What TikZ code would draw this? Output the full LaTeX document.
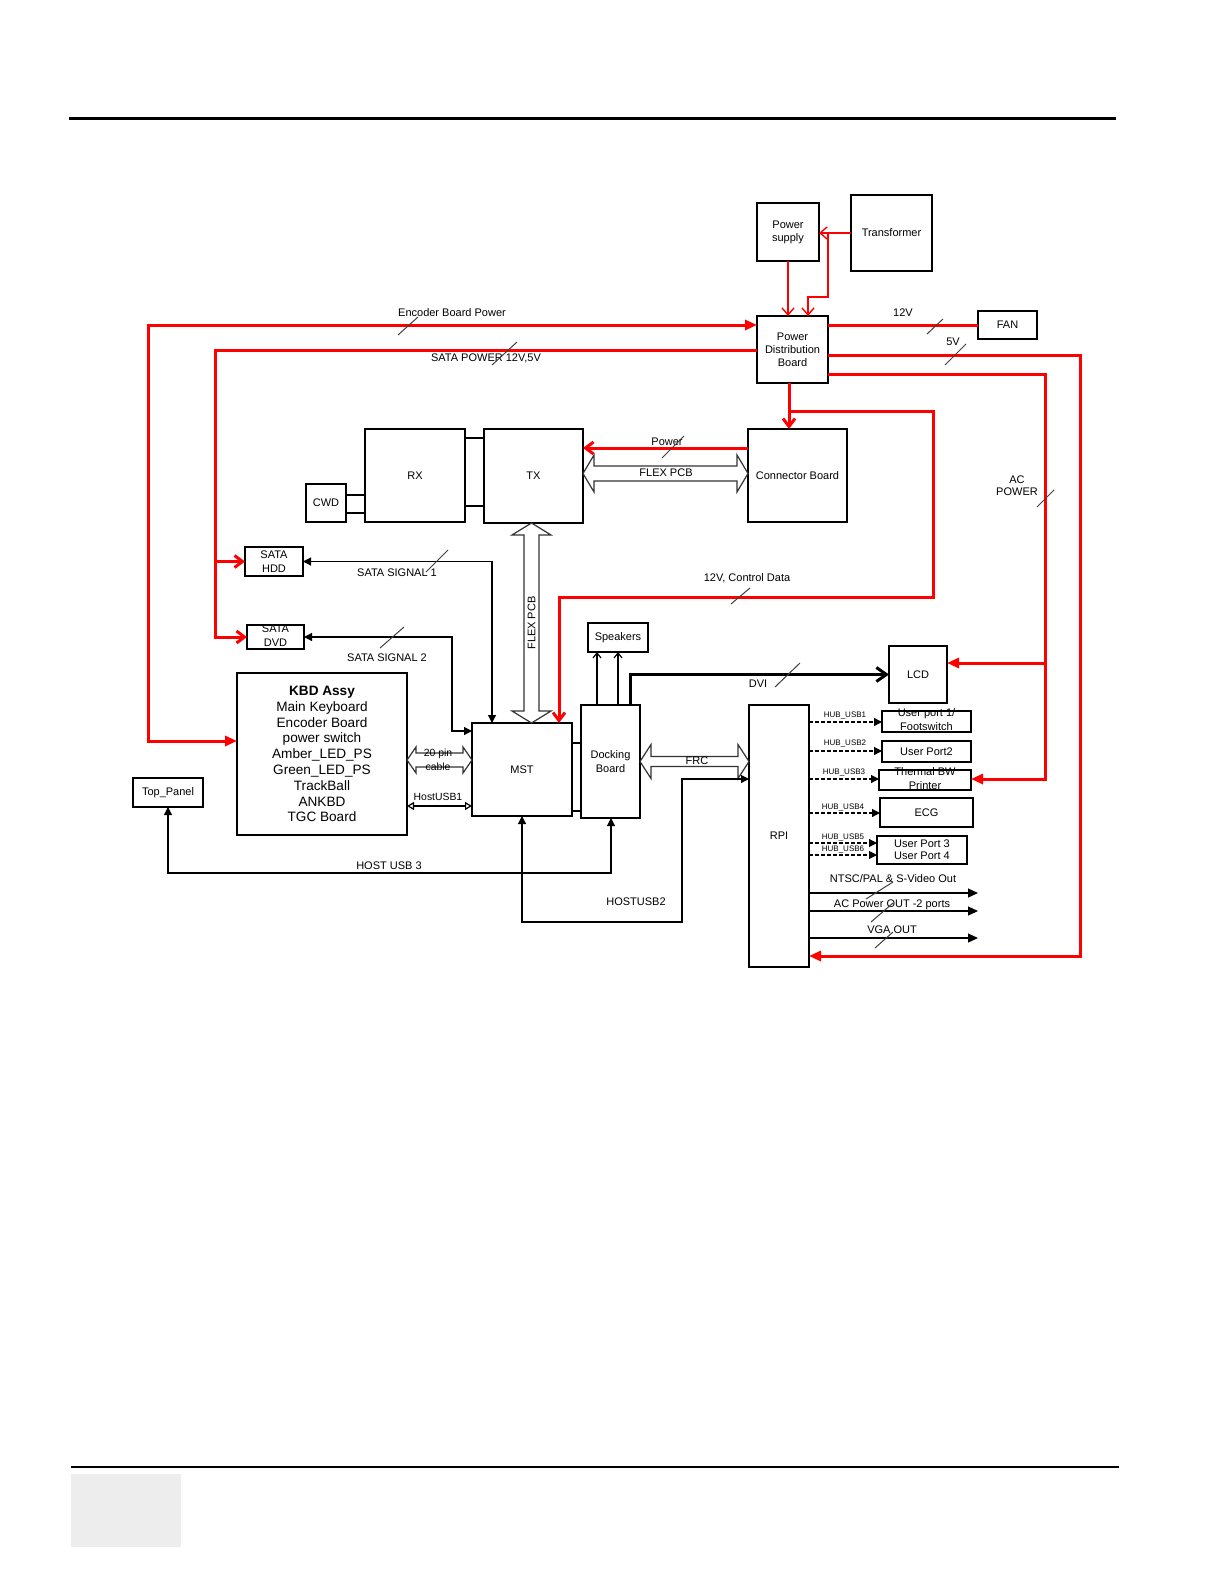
\documentclass[tikz,border=0pt]{standalone}
\usepackage{fontspec}
\setmainfont{Liberation Sans}
\usetikzlibrary{arrows.meta}
\newcommand{\fsm}{\fontsize{5.5}{6.6}\selectfont}
\newcommand{\fmid}{\fontsize{5.5}{7}\selectfont}
\newcommand{\ftn}{\fontsize{4}{4.8}\selectfont}
\newcommand{\fkb}{\fontsize{6.8}{7.9}\selectfont}
\tikzset{
  redtri/.tip={Triangle[length=6pt,width=5pt]},
  redbarb/.tip={Straight Barb[length=4pt,width=6pt]},
  thinbarb/.tip={Straight Barb[length=3.5pt,width=6pt]},
  blktri/.tip={Triangle[length=4pt,width=4pt]},
  smtri/.tip={Triangle[length=4pt,width=4pt]},
  bigtri/.tip={Triangle[length=5pt,width=4.5pt]},
  spkbarb/.tip={Straight Barb[length=2.5pt,width=4pt]},
  opentri/.tip={Triangle[open,length=3.5pt,width=4pt]},
  box/.style={draw,line width=0.75pt,inner sep=0pt,outer sep=0pt,align=center,font=\fsm},
  txt/.style={inner sep=0pt,align=center,font=\fsm},
  thickred/.style={draw=red,line width=1.5pt},
  thinred/.style={draw=red,line width=0.7pt},
  blk/.style={draw=black,line width=0.6pt},
  tick/.style={draw=black!75,line width=0.5pt},
  fat/.style={draw=black!80,fill=white,line width=0.6pt},
}
\begin{document}
\begin{tikzpicture}[x=0.5pt,y=-0.5pt]
\useasboundingbox (0,0) rectangle (1224,1584);
\fill[white] (0,0) rectangle (1224,1584);
% page furniture
\draw[line width=1.5pt] (69,119) -- (1116,119);
\draw[line width=0.6pt] (71,1467) -- (1119,1467);
\fill[black!7] (71,1474) rectangle (181,1547);

% boxes
\node[box,minimum width=31pt,minimum height=29pt] (ps) at (788,232) {Power\\supply};
\node[box,minimum width=40.5pt,minimum height=38pt] (tr) at (891.5,233) {Transformer};
\node[box,minimum width=35.5pt,minimum height=33.5pt] (pdb) at (792.5,349.5) {Power\\Distribution\\Board};
\node[box,minimum width=29.5pt,minimum height=14pt] (fan) at (1007.5,325) {FAN};
\node[box,minimum width=50pt,minimum height=46.5pt] (rx) at (415,475.5) {RX};
\node[box,minimum width=49.5pt,minimum height=47pt] (tx) at (533.5,476) {TX};
\node[box,minimum width=9.5pt,minimum height=34pt] (rxtx) at (474.5,472) {};
\node[box,minimum width=20pt,minimum height=19pt] (cwd) at (326,503) {CWD};
\node[box,minimum width=9.5pt,minimum height=9pt] (cwdrx) at (355.5,504) {};
\node[box,minimum width=49.5pt,minimum height=46.5pt] (cb) at (797.5,475.5) {Connector Board};
\node[box,minimum width=29pt,minimum height=14.5pt,font=\fmid] (hdd) at (274,561.5) {SATA\\HDD};
\node[box,minimum width=28.5pt,minimum height=12pt] (dvd) at (275.5,637) {};
\node[txt,font=\fmid] (dvdt) at (275.5,636) {SATA\\DVD};
\node[box,minimum width=85pt,minimum height=81pt,font=\fkb] (kbd) at (322,754) {\textbf{KBD Assy}\\Main Keyboard\\Encoder Board\\power switch\\Amber\_LED\_PS\\Green\_LED\_PS\\TrackBall\\ANKBD\\TGC Board};
\node[box,minimum width=35pt,minimum height=14.5pt] (top) at (168,792.5) {Top\_Panel};
\node[box,minimum width=50pt,minimum height=46.5pt] (mst) at (522,769.5) {MST};
\node[box,minimum width=4.5pt,minimum height=34pt] (mcon) at (576.5,777) {};
\node[box,minimum width=29.5pt,minimum height=56.5pt] (dock) at (610.5,761.5) {Docking\\Board};
\node[box,minimum width=30pt,minimum height=14.5pt] (spk) at (618,637.5) {Speakers};
\node[box,minimum width=29pt,minimum height=28.5pt] (lcd) at (918,674.5) {LCD};
\node[box,minimum width=30pt,minimum height=131pt] (rpi) at (779,836) {RPI};
\node[box,minimum width=44.5pt,minimum height=10.5pt] (up1) at (926.5,721.5) {};
\node[txt,font=\fmid] (up1t) at (926.5,720) {User port 1/\\Footswitch};
\node[box,minimum width=44.5pt,minimum height=10.5pt] (up2) at (926.5,751.5) {User Port2};
\node[box,minimum width=46pt,minimum height=10pt] (prn) at (925,780) {};
\node[txt,font=\fmid] (prnt) at (925,779) {Thermal BW\\Printer};
\node[box,minimum width=46.5pt,minimum height=14.5pt] (ecg) at (926.5,812.5) {ECG};
\node[box,minimum width=45pt,minimum height=14pt,font=\fontsize{5.5}{6}\selectfont] (up34) at (922,850) {User Port 3\\User Port 4};

% thin red (supply)
\draw[thinred,-{thinbarb}] (tr.west) -- (tr.west -| ps.east);
\draw[thinred,-{thinbarb}] (tr.west -| 828,0) |- (808,297) -- (pdb.north -| 808,0);
\draw[thinred,-{thinbarb}] (ps.south) -- (pdb.north -| ps.south);

% thick red
\draw[thickred,{redtri}-{redtri}] (kbd.west |- 0,741) -| (148,325) -- (pdb.west |- 0,325);
\draw[thickred,-{redbarb}] (pdb.west |- 0,350) -| (215,637) -- (dvd.west);
\draw[thickred,-{redbarb}] (215,561.5) -- (hdd.west);
\draw[thickred] (pdb.east |- 0,325) -- (fan.west);
\draw[thickred,-{redtri}] (pdb.east |- 0,355) -| (1080,956) -- (rpi.east |- 0,956);
\draw[thickred,-{redtri}] (pdb.east |- 0,374) -| (1045,779) -- (prn.east |- 0,779);
\draw[thickred,-{redtri}] (1045,663) -- (lcd.east |- 0,663);
\draw[thickred,-{redbarb}] (pdb.south -| 789,0) -- (cb.north -| 789,0);
\draw[thickred,-{redbarb}] (789,411) -| (933,597) -| (mst.north -| 559,0);
\draw[thickred,-{redbarb}] (cb.west |- 0,448) -- (tx.east |- 0,448);

% outline double arrows
\draw[fat] (583,473.5) -- (594,455) -- (594,466) -- (737,466) -- (737,455) -- (748,473.5) -- (737,492) -- (737,481) -- (594,481) -- (594,492) -- cycle;
\draw[fat] (531.5,523) -- (551,535) -- (539,535) -- (539,711) -- (551,711) -- (531.5,723) -- (512,711) -- (524,711) -- (524,535) -- (512,535) -- cycle;
\draw[fat] (640,761.5) -- (651,744.5) -- (651,756.5) -- (738,756.5) -- (738,744.5) -- (749,761.5) -- (738,778.5) -- (738,766.5) -- (651,766.5) -- (651,778.5) -- cycle;
\draw[fat] (407,760) -- (416,747) -- (416,753) -- (463,753) -- (463,747) -- (472,760) -- (463,773) -- (463,767) -- (416,767) -- (416,773) -- cycle;

% black connectors
\draw[blk,{blktri}-{blktri}] (hdd.east) -| (mst.north -| 492,0);
\draw[blk,{blktri}-{blktri}] (dvd.east) -| (452,731) -- (mst.west |- 0,731);
\draw[blk,{blktri}-{blktri}] (top.south) |- (611,873) -- (dock.south -| 611,0);
\draw[blk,{blktri}-{blktri}] (mst.south) |- (682,922) |- (rpi.west |- 0,779);
\draw[blk,-{spkbarb}] (dock.north -| 597,0) -- (spk.south -| 597,0);
\draw[blk,-{spkbarb}] (dock.north -| 618,0) -- (spk.south -| 618,0);
\draw[line width=1.5pt,-{Straight Barb[length=5pt,width=7pt]}] (dock.north -| 630,0) |- (lcd.west);
\draw[blk,{opentri}-{opentri}] (kbd.east |- 0,806) -- (mst.west |- 0,806);
\draw[blk,dash pattern=on 2pt off 1pt,-{smtri}] (rpi.east |- 0,722) -- (up1.west |- 0,722);
\draw[blk,dash pattern=on 2pt off 1pt,-{smtri}] (rpi.east |- 0,751) -- (up2.west |- 0,751);
\draw[blk,dash pattern=on 2pt off 1pt,-{smtri}] (rpi.east |- 0,779) -- (prn.west |- 0,779);
\draw[blk,dash pattern=on 2pt off 1pt,-{smtri}] (rpi.east |- 0,813) -- (ecg.west |- 0,813);
\draw[blk,dash pattern=on 2pt off 1pt,-{smtri}] (rpi.east |- 0,843) -- (up34.west |- 0,843);
\draw[blk,dash pattern=on 2pt off 1pt,-{smtri}] (rpi.east |- 0,855) -- (up34.west |- 0,855);
\coordinate (o1) at (978,893);
\coordinate (o2) at (978,911);
\coordinate (o3) at (978,938);
\draw[blk,-{bigtri}] (rpi.east |- o1) -- (o1);
\draw[blk,-{bigtri}] (rpi.east |- o2) -- (o2);
\draw[blk,-{bigtri}] (rpi.east |- o3) -- (o3);

% labels
\node[txt] (lenc) at (452,313) {Encoder Board Power};
\node[txt] (lsata) at (486,358) {SATA POWER 12V,5V};
\node[txt] (l12) at (903,313) {12V};
\node[txt] (l5) at (953,342) {5V};
\node[txt,font=\fontsize{5.5}{6}\selectfont] (lac) at (1017,486) {AC\\POWER};
\node[txt] (lpow) at (667,442) {Power};
\node[txt] (lflex) at (666,473) {FLEX PCB};
\node[txt,rotate=90] (lflexv) at (531.5,623) {FLEX PCB};
\node[txt] (lctl) at (747,578) {12V, Control Data};
\node[txt] (ls1) at (397,573) {SATA SIGNAL 1};
\node[txt] (ls2) at (387,658) {SATA SIGNAL 2};
\node[txt] (ldvi) at (758,684) {DVI};
\node[txt] (lfrc) at (697,761) {FRC};
\node[txt,font=\fontsize{5.2}{7}\selectfont] (lpin) at (438,760) {20 pin\\cable};
\node[txt,font=\fontsize{5.2}{6}\selectfont] (lhu1) at (438,797) {HostUSB1};
\node[txt] (lhu3) at (389,866) {HOST USB 3};
\node[txt] (lhu2) at (636,902) {HOSTUSB2};
\node[txt,font=\ftn] (h1) at (845,715) {HUB\_USB1};
\node[txt,font=\ftn] (h2) at (845,743) {HUB\_USB2};
\node[txt,font=\ftn] (h3) at (844,772) {HUB\_USB3};
\node[txt,font=\ftn] (h4) at (843,807) {HUB\_USB4};
\node[txt,font=\ftn] (h5) at (843,837) {HUB\_USB5};
\node[txt,font=\ftn] (h6) at (843,849) {HUB\_USB6};
\node[txt] (lntsc) at (893,879) {NTSC/PAL \& S-Video Out};
\node[txt] (lacout) at (892,905) {AC Power OUT -2 ports};
\node[txt] (lvga) at (892,930) {VGA OUT};

% tick marks
\draw[tick] (398,335) -- (418,317);
\draw[tick] (492,365) -- (517,342);
\draw[tick] (927,334) -- (943,319);
\draw[tick] (945,365) -- (966,344);
\draw[tick] (1037,507) -- (1054,490);
\draw[tick] (662,458) -- (684,436);
\draw[tick] (731,604) -- (750,588);
\draw[tick] (426,572) -- (448,550);
\draw[tick] (380,648) -- (404,627);
\draw[tick] (775,687) -- (800,663);
\draw[tick] (866,899) -- (893,882);
\draw[tick] (871,922) -- (893,903);
\draw[tick] (875,948) -- (893,932);
\end{tikzpicture}
\end{document}
